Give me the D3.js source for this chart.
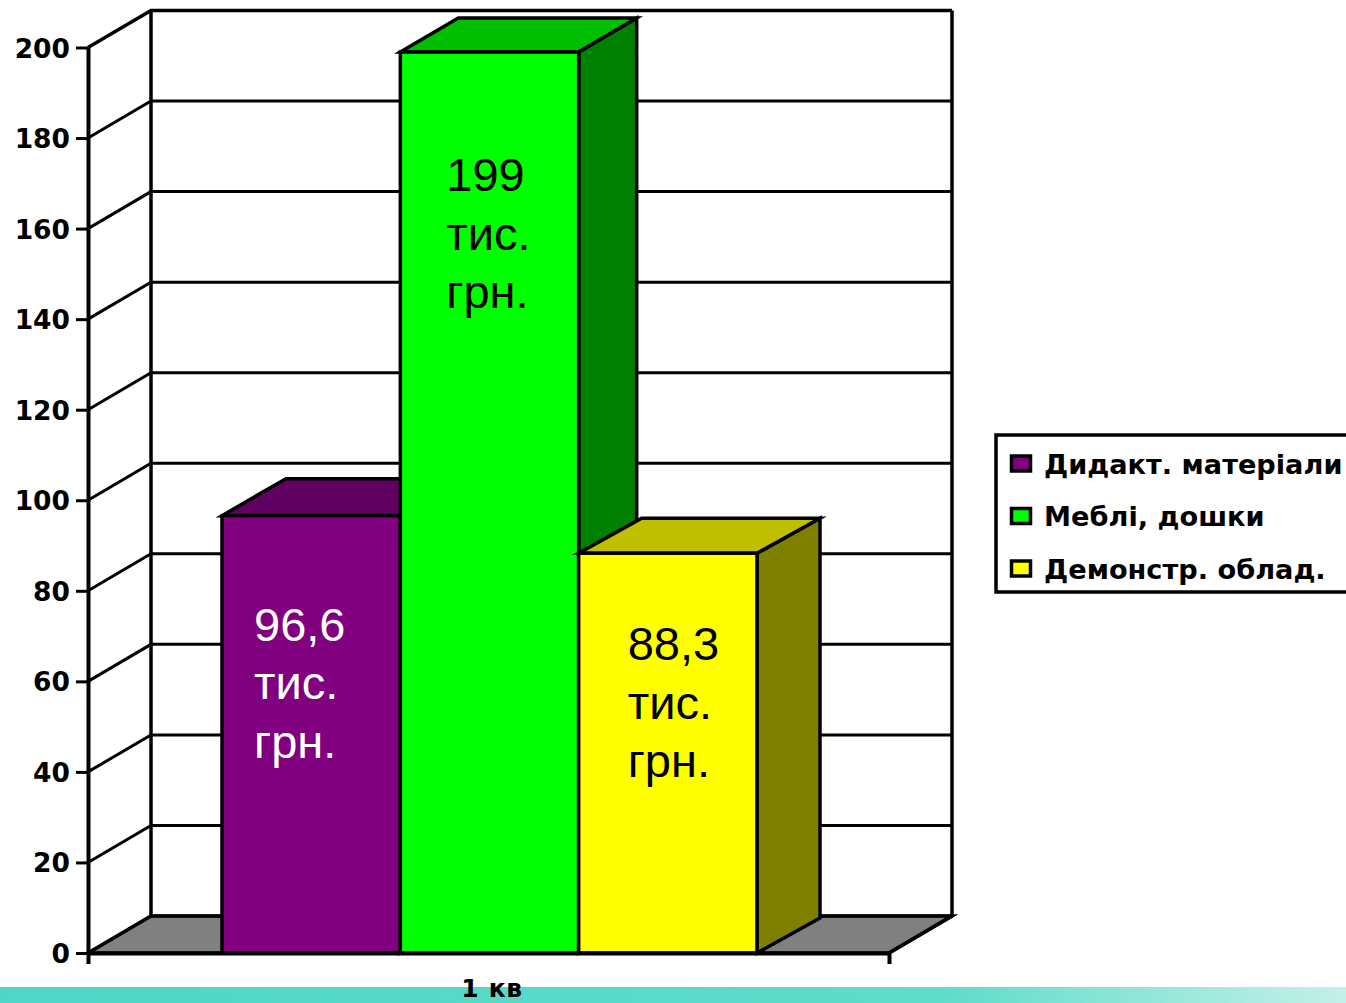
<!DOCTYPE html>
<html>
<head>
<meta charset="utf-8">
<script src="https://cdn.jsdelivr.net/npm/d3@7"></script>
<style>
  html, body { margin: 0; padding: 0; background: #fff; }
  svg { display: block; }
  text { fill: #000; }
  .axis text { font-family: "DejaVu Sans"; font-weight: bold; font-size: 26.5px; }
  .axis.cat text { font-size: 25px; letter-spacing: 0.7px; }
  .legend text { font-family: "DejaVu Sans"; font-weight: bold; font-size: 27.2px; }
  .lab { font-family: "Liberation Sans"; font-size: 47px; }
</style>
</head>
<body>
<div id="chart"></div>
<script>
// data
var categories = ["1 кв"];
var series = ["Дидакт. матеріали", "Меблі, дошки", "Демонстр. облад."];
var values = [96.6, 199, 88.3];
var labels = [["96,6", "тис.", "грн."], ["199", "тис.", "грн."], ["88,3", "тис.", "грн."]];
var yTicks = [0, 20, 40, 60, 80, 100, 120, 140, 160, 180, 200];

// styles
var frontColors = ["#800080", "#00ff00", "#ffff00"];
var sideColors = ["#600060", "#008000", "#808000"];
var topColors = ["#600060", "#00bf00", "#bfbf00"];
var labelColors = ["#fff", "#000", "#000"];
var labelShift = [[32, 125], [46, 139], [49, 107]];   // hand placed in the original
var barDepth = [[64, -37], [58, -34], [63, -35]];     // the green one is a bit shallower

var width = 1346, height = 1003;
var depthX = 63, depthY = -37;

var svg = d3.select("#chart").append("svg")
  .attr("width", width)
  .attr("height", height);

// ---------------------------------------------------- bottom strip
var grad = svg.append("defs").append("linearGradient").attr("id", "strip");
grad.append("stop").attr("offset", "0%").attr("stop-color", "#4fd6c6");
grad.append("stop").attr("offset", "70%").attr("stop-color", "#5fdcca");
grad.append("stop").attr("offset", "100%").attr("stop-color", "#c4f0e8");
svg.append("rect")
  .attr("x", 0).attr("y", 987)
  .attr("width", width).attr("height", 16)
  .attr("fill", "url(#strip)");

// ---------------------------------------------------- scales
var y = d3.scaleLinear().domain([0, 200]).range([953, 47.5]);
var x = d3.scaleBand().domain(categories).range([88, 889]);
var xBar = d3.scaleBand().domain(series).range([222, 757]);

var line = d3.line();

// ---------------------------------------------------- walls and floor
svg.append("path")
  .attr("d", line([[x.range()[0], y(0)], [x.range()[0] + depthX, y(0) + depthY],
                   [x.range()[1] + depthX, y(0) + depthY], [x.range()[1], y(0)]]) + "Z")
  .attr("fill", "#808080")
  .attr("stroke", "#000")
  .attr("stroke-width", 3.5);

svg.selectAll(".grid")
  .data(yTicks)
  .enter().append("path")
  .attr("class", "grid")
  .attr("fill", "none")
  .attr("stroke", "#000")
  .attr("stroke-width", function(d) { return d == 200 ? 3.5 : 3; })
  .attr("d", function(d) {
    return line([[x.range()[0], y(d)], [x.range()[0] + depthX, y(d) + depthY], [x.range()[1] + depthX, y(d) + depthY]]);
  });

svg.append("path")
  .attr("fill", "none")
  .attr("stroke", "#000")
  .attr("stroke-width", 3.5)
  .attr("d", line([[x.range()[0] + depthX, y(200) + depthY], [x.range()[0] + depthX, y(0) + depthY]]));
svg.append("path")
  .attr("fill", "none")
  .attr("stroke", "#000")
  .attr("stroke-width", 3.5)
  .attr("d", line([[x.range()[1] + depthX, y(200) + depthY], [x.range()[1] + depthX, y(0) + depthY], [x.range()[1], y(0)]]));

// ---------------------------------------------------- bars
var bars = svg.selectAll(".bar")
  .data(series)
  .enter().append("g")
  .attr("class", "bar")
  .attr("stroke", "#000")
  .attr("stroke-width", 3.5)
  .attr("stroke-linejoin", "miter");

bars.append("path")
  .attr("fill", function(d, i) { return sideColors[i]; })
  .attr("d", function(d, i) {
    var r = xBar(d) + xBar.bandwidth();
    var dx = barDepth[i][0], dy = barDepth[i][1];
    return line([[r, y(values[i])], [r + dx, y(values[i]) + dy], [r + dx, y(0) + dy], [r, y(0)]]) + "Z";
  });

bars.append("path")
  .attr("fill", function(d, i) { return topColors[i]; })
  .attr("d", function(d, i) {
    var l = xBar(d), r = l + xBar.bandwidth();
    var dx = barDepth[i][0], dy = barDepth[i][1];
    return line([[l, y(values[i])], [l + dx, y(values[i]) + dy], [r + dx, y(values[i]) + dy], [r, y(values[i])]]) + "Z";
  });

bars.append("rect")
  .attr("fill", function(d, i) { return frontColors[i]; })
  .attr("x", function(d) { return xBar(d); })
  .attr("y", function(d, i) { return y(values[i]); })
  .attr("width", xBar.bandwidth())
  .attr("height", function(d, i) { return y(0) - y(values[i]); });

// ---------------------------------------------------- value labels
series.forEach(function(s, i) {
  var t = svg.append("text")
    .attr("class", "lab")
    .style("fill", labelColors[i]);
  labels[i].forEach(function(txt, j) {
    t.append("tspan")
      .attr("x", xBar(s) + labelShift[i][0])
      .attr("y", y(values[i]) + labelShift[i][1] + j * 58.5)
      .text(txt);
  });
});

// ---------------------------------------------------- axes
var yAxis = d3.axisLeft(y)
  .tickValues(yTicks)
  .tickSize(12)
  .tickSizeOuter(0)
  .tickPadding(6);
svg.append("g")
  .attr("class", "axis")
  .attr("transform", "translate(" + x.range()[0] + ",0)")
  .call(yAxis)
  .call(function(g) {
    g.select(".domain").attr("stroke-width", 4);
    g.selectAll(".tick line").attr("stroke-width", 3);
    g.selectAll(".tick text").attr("dy", "0.36em");
  });

var xAxis = d3.axisBottom(x)
  .tickSizeInner(0)
  .tickSizeOuter(11)
  .tickPadding(26);
svg.append("g")
  .attr("class", "axis cat")
  .attr("transform", "translate(0," + y(0) + ")")
  .call(xAxis)
  .call(function(g) {
    g.select(".domain").attr("stroke-width", 4);
    g.selectAll(".tick text").attr("dx", 3.5);
  });

// ---------------------------------------------------- legend
var legend = svg.append("g").attr("class", "legend");
legend.append("rect")
  .attr("x", 996).attr("y", 435)
  .attr("width", 360).attr("height", 157)
  .attr("fill", "#fff")
  .attr("stroke", "#000")
  .attr("stroke-width", 3.5);

var item = legend.selectAll(".item")
  .data(series)
  .enter().append("g")
  .attr("class", "item")
  .attr("transform", function(d, i) { return "translate(0," + (464 + i * 52.5) + ")"; });
item.append("rect")
  .attr("x", 1011.5).attr("y", -8)
  .attr("width", 19).attr("height", 15)
  .attr("fill", function(d, i) { return frontColors[i]; })
  .attr("stroke", "#000")
  .attr("stroke-width", 3.5);
item.append("text")
  .attr("x", 1044).attr("y", 9.5)
  .text(function(d) { return d; });
</script>
</body>
</html>
